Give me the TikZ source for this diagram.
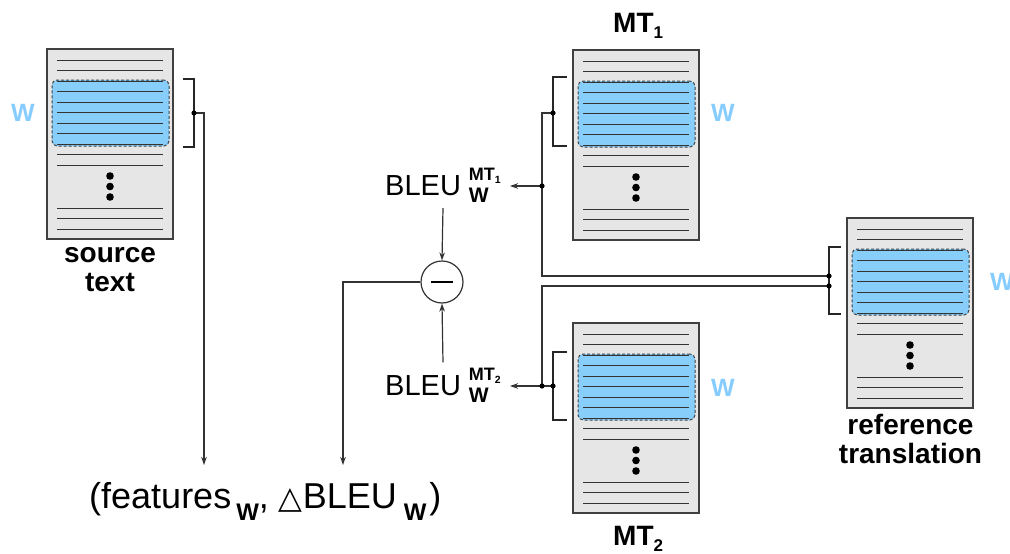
\documentclass[tikz,border=0pt]{standalone}
\usepackage{fontspec}
\setmainfont{Liberation Sans}
\newfontfamily\dejavu{DejaVu Sans}
\usetikzlibrary{arrows.meta,calc}
\definecolor{docgray}{RGB}{230,230,230}
\definecolor{winblue}{RGB}{135,206,250}
\definecolor{wlabel}{RGB}{135,204,255}
\tikzset{
 docbox/.style={draw=black!75, line width=1.4pt, fill=docgray, minimum width=126pt, minimum height=190pt, inner sep=0pt, outer sep=0pt, anchor=north west},
 winbox/.style={draw=black!75, dash pattern=on 3pt off 2pt, line width=1pt, fill=winblue, rounded corners=5pt, minimum width=117pt, minimum height=66pt, inner sep=0pt},
 txtline/.style={draw=black!80, line width=1pt},
 conn/.style={draw=black!80, line width=1.2pt},
 arr/.style={conn, -{Stealth[length=8pt,width=5.5pt]}},
 brk/.style={draw=black!85, line width=1.2pt},
 wlab/.style={text=wlabel, font=\fontsize{25}{25}\selectfont\bfseries, inner sep=0pt},
 doclab/.style={font=\fontsize{28}{29}\selectfont\bfseries, inner sep=0pt, align=center},
 mtlab/.style={font=\fontsize{28}{28}\selectfont\bfseries, inner sep=0pt, anchor=base west},
 bleulab/.style={font=\fontsize{29}{29}\selectfont, inner sep=0pt, anchor=base west},
}
\newcommand\docu[3]{%
 \node[docbox] (#1) at (#2,#3) {};
 \begin{scope}[shift={(#1.north west)}]
  \node[winbox] (#1w) at (63.5,64) {};
  \foreach \yy in {11,21.5,32,42.5,53,63.5,74,84.5,95,105.5,116,159,169.5,180}
    \draw[txtline] (10,\yy) -- (116,\yy);
  \foreach \yy in {127,137.5,148}
    \fill (63,\yy) circle (3.8pt);
 \end{scope}}
\newcommand\bleusup[1]{BLEU\kern8pt\rlap{\raisebox{-7pt}{\fontsize{21}{21}\selectfont\bfseries W}}\raisebox{15pt}{\fontsize{18}{18}\selectfont\bfseries MT\raisebox{-3pt}{\fontsize{10.5}{10.5}\selectfont #1}}}
\newcommand\subW{{\fontsize{24}{24}\selectfont\bfseries W}}
\begin{document}
\begin{tikzpicture}[x=1pt,y=-1pt]
\useasboundingbox (0,0) rectangle (1010,554);
% documents
\docu{src}{47}{49}
\docu{mtA}{573}{50}
\docu{mtB}{573}{323}
\docu{ref}{847}{218}
% labels
\node[doclab, anchor=north] (srclab) at (110,247.5) {source\\text};
\node[doclab, anchor=north] (reflab) at (910.5,414) {reference\\translation};
\node[mtlab] (mtAlab) at (613,32) {MT\raisebox{-6pt}{\fontsize{17}{17}\selectfont 1}};
\node[mtlab] (mtBlab) at (613,545) {MT\raisebox{-6pt}{\fontsize{17}{17}\selectfont 2}};
\node[wlab] (wsrc) at (23,113) {W};
\node[wlab] (wmtA) at (723,113) {W};
\node[wlab] (wmtB) at (723,388) {W};
\node[wlab] (wref) at (1002,282) {W};
% brackets
\draw[brk] (183,79) -- (194,79) -- (194,147) -- (183,147);
\draw[brk] (567,77) -- (553,77) -- (553,146) -- (567,146);
\draw[brk] (567,352) -- (553,352) -- (553,420) -- (567,420);
\draw[brk] (841,247) -- (829,247) -- (829,314) -- (841,314);
% junction coordinates
\coordinate (sb) at (194,113);
\coordinate (mAb) at (553,113);
\coordinate (jA) at (542,186);
\coordinate (rA) at (829,276);
\coordinate (rB) at (829,286);
\coordinate (jB) at (542,386);
\coordinate (mBb) at (553,386);
\coordinate (tA) at (510,186);
\coordinate (tB) at (510,386);
\coordinate (fA) at (204,465);
\coordinate (fB) at (343,465);
% BLEU nodes and circle
\node[bleulab] (bleuA) at (385,195) {\bleusup{1}};
\node[bleulab] (bleuB) at (385,395) {\bleusup{2}};
\node[circle, draw=black!80, line width=1.2pt, minimum size=42pt, inner sep=0pt] (circ) at (442,282) {};
\draw[line width=2.5pt] ([xshift=-11pt]circ.center) -- ([xshift=11pt]circ.center);
% result
\node[anchor=base west, inner sep=0pt, font=\fontsize{36}{36}\selectfont] (res) at (89,508)
 {(features\kern5pt\raisebox{-12pt}{\subW}, {\dejavu\fontsize{31}{31}\selectfont △}BLEU\kern7pt\raisebox{-12pt}{\subW}\kern3pt)};
% connectors
\draw[arr] (sb) -| (fA);
\draw[conn] (mAb) -- (mAb -| jA) -- (jA) |- (rA);
\draw[arr] (jA) -- (tA);
\draw[conn] (rB) -| (jB);
\draw[arr] (mBb) -- (tB);
\draw[arr] ([yshift=-6pt]bleuA.south) -- (circ.north);
\draw[arr] ([yshift=5pt]bleuB.north) -- (circ.south);
\draw[arr] (circ.west) -| (fB);
\foreach \p in {sb,mAb,jA,rA,rB,jB,mBb} \fill (\p) circle (2.6pt);
\end{tikzpicture}
\end{document}
